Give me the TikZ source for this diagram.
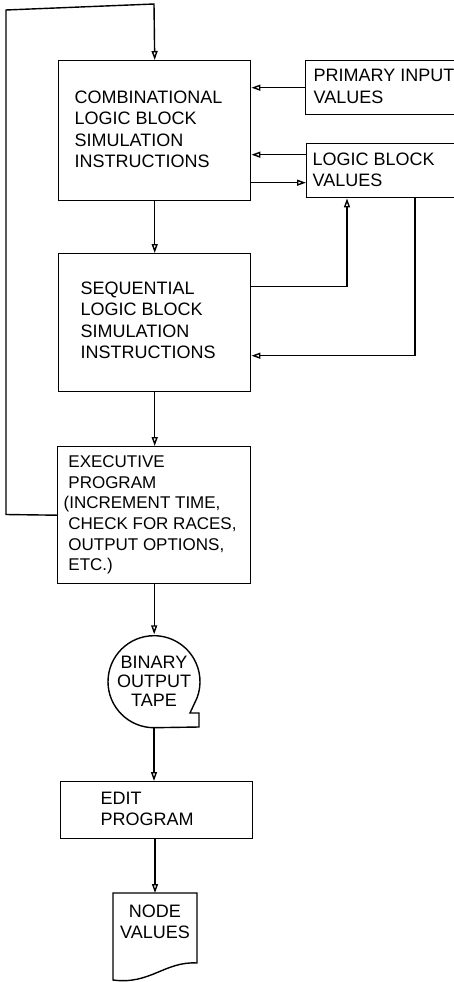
\documentclass[tikz,border=0pt]{standalone}
\usepackage{fontspec}
\setmainfont{Liberation Sans}
\usetikzlibrary{arrows.meta}
\begin{document}
\begin{tikzpicture}[x=1pt,y=-1pt,line width=1.4pt,
  box/.style={draw,rectangle,inner sep=0,anchor=north west},
  arr/.style={-{Triangle[open,length=9pt,width=6pt]}},
  lbl/.style={font=\fontsize{18}{21.5}\selectfont,align=left,inner sep=0,anchor=west},
  lblsmall/.style={font=\fontsize{17}{20.7}\selectfont,align=left,inner sep=0,anchor=west}]
\useasboundingbox (0,0) rectangle (454,982);
% boxes
\node[box,minimum width=192pt,minimum height=140pt] (comb) at (58,60) {};
\node[box,minimum width=192pt,minimum height=138pt] (seq) at (58,253) {};
\node[box,minimum width=193pt,minimum height=137pt] (exec) at (57,446) {};
\node[box,minimum width=192pt,minimum height=57pt] (edit) at (60,781) {};
\node[box,minimum width=165pt,minimum height=54pt] (prim) at (305,60) {};
\node[box,minimum width=165pt,minimum height=54pt] (lbv) at (306,143) {};
% texts
\node[lbl] at (74,129.5) {COMBINATIONAL\\LOGIC BLOCK\\SIMULATION\\INSTRUCTIONS};
\node[lbl] at (80,320.5) {SEQUENTIAL\\LOGIC BLOCK\\SIMULATION\\INSTRUCTIONS};
\node[lblsmall] at (63,515) {\ EXECUTIVE\\\ PROGRAM\\(INCREMENT TIME,\\\ CHECK FOR RACES,\\\ OUTPUT OPTIONS,\\\ ETC.)};
\node[lbl] at (100,809) {EDIT\\PROGRAM};
\node[lbl] at (313,86.5) {PRIMARY INPUT\\VALUES};
\node[lbl] at (312,170) {LOGIC BLOCK\\VALUES};
% tape
\node[circle,minimum size=92pt,inner sep=0,align=center,font=\fontsize{18}{19}\selectfont] (tape) at (154,681) {BINARY\\OUTPUT\\TAPE};
\draw (tape.south) arc[start angle=90,end angle=380,radius=46] -- (190,713) -- (199,713) -- (199,727) -- cycle;
% document
\node[inner sep=0,minimum width=84pt,minimum height=56pt,anchor=north,align=center,font=\fontsize{18}{21}\selectfont] (doc) at (155,893) {NODE\\VALUES};
\draw (113,980) -- (113,893) -- (197,893) -- (197,963) .. controls (165,961) and (150,985) .. (113,980) -- cycle;
% connectors
\coordinate (top) at (154,4);
\draw[arr] (exec.west) -- (6,514.5) -- (6,10) -- (top) -- (comb.north);
\draw[arr] (prim.west) -- (comb.east |- prim.west);
\coordinate (l1) at ([yshift=16pt]lbv.west);
\coordinate (l2) at ([yshift=-12pt]lbv.west);
\draw[arr] (l1) -- (comb.east |- l1);
\draw[arr] (comb.east |- l2) -- (l2);
\draw[arr] (comb.south) -- (seq.north);
\coordinate (s1) at ([yshift=36pt]seq.east);
\coordinate (s2) at ([yshift=-33pt]seq.east);
\coordinate (lb1) at ([xshift=41pt]lbv.south west);
\coordinate (lb2) at ([xshift=109pt]lbv.south west);
\draw[arr] (s1) -| (lb1);
\draw[arr] (lb2) |- (s2);
\draw[arr] (seq.south) -- (seq.south |- exec.north);
\draw[arr] (exec.south) -- (exec.south |- tape.north);
\draw[arr] (tape.south) -- (tape.south |- edit.north);
\draw[arr] (doc.north |- edit.south) -- (doc.north);
\end{tikzpicture}
\end{document}
